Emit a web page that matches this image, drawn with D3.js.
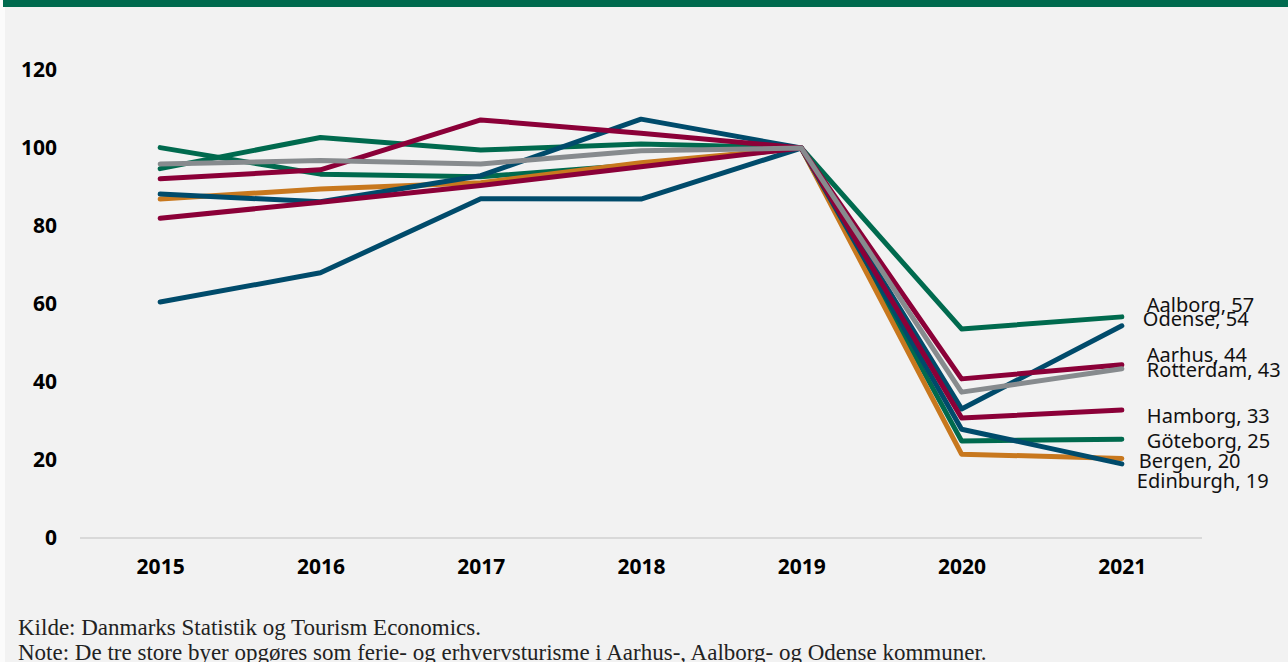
<!DOCTYPE html>
<html><head><meta charset="utf-8">
<script src="https://cdn.jsdelivr.net/npm/d3@7"></script>
<style>
html,body{margin:0;padding:0;background:#f2f2f2;}
svg{display:block;}
</style></head>
<body>
<script>
// ---- data ----
const years = ["2015","2016","2017","2018","2019","2020","2021"];
const yTicks = [0,20,40,60,80,100,120];
const cities = ["Göteborg","Aalborg","Bergen","Odense","Edinburgh","Hamborg","Aarhus","Rotterdam"];
const goteborg  = [100.1, 93.3, 92.6, 95.8, 100, 24.9, 25.3];
const aalborg   = [94.7, 102.7, 99.5, 101.0, 100, 53.6, 56.7];
const bergen    = [86.9, 89.5, 91.1, 96.2, 100, 21.5, 20.4];
const odense    = [60.5, 68.0, 87.0, 86.9, 100, 33.1, 54.4];
const edinburgh = [88.2, 86.2, 92.9, 107.4, 100, 27.9, 19.0];
const hamborg   = [82.0, 86.1, 90.4, 95.2, 100, 30.8, 32.8];
const aarhus    = [92.1, 94.4, 107.2, 103.8, 100, 40.8, 44.4];
const rotterdam = [95.9, 96.8, 95.9, 99.3, 100, 37.4, 43.4];
const seriesValues = [goteborg, aalborg, bergen, odense, edinburgh, hamborg, aarhus, rotterdam];
const sourceText = "Kilde: Danmarks Statistik og Tourism Economics.";
const noteText = "Note: De tre store byer opgøres som ferie- og erhvervsturisme i Aarhus-, Aalborg- og Odense kommuner.";

// ---- styles ----
const colors = {"Göteborg":"#006a4e","Aalborg":"#006a4e","Bergen":"#c8781e","Odense":"#004b6b",
  "Edinburgh":"#004b6b","Hamborg":"#8b0038","Aarhus":"#8b0038","Rotterdam":"#878b8e"};
// label nudges (px) relative to end point
const labelNudge = {"Aalborg":[25,-5],"Odense":[21,0],"Aarhus":[25,-3],"Rotterdam":[25,8],
  "Hamborg":[25,12.5],"Göteborg":[25,8.4],"Bergen":[17,9.3],"Edinburgh":[15,23.8]};

const W = 1288, H = 662;
const svg = d3.select("body").append("svg").attr("width", W).attr("height", H);
svg.append("rect").attr("width", W).attr("height", H).attr("fill", "#f2f2f2");
svg.append("rect").attr("x",0).attr("y",0).attr("width",5).attr("height",H).attr("fill","#fbfbfb");
svg.append("rect").attr("x",3).attr("y",0).attr("width",W-3).attr("height",7).attr("fill","#006a4e");

const x = d3.scalePoint().domain(years).range([80, 1202]).padding(0.5);
const y = d3.scaleLinear().domain([0, 120]).range([538, 70]);

// baseline
svg.append("line").attr("x1", 80).attr("x2", 1202).attr("y1", y(0)).attr("y2", y(0))
  .attr("stroke", "#d9d9d9").attr("stroke-width", 2);

// y axis labels
const yAxis = d3.axisLeft(y).tickValues(yTicks).tickSize(0).tickPadding(0);
const gy = svg.append("g").attr("transform", "translate(57,0)").call(yAxis);
gy.select(".domain").remove();
gy.selectAll("text").attr("font-family", "'Noto Sans', sans-serif").attr("font-weight", "bold")
  .attr("font-size", 21).attr("fill", "#000");

// x axis labels
const xAxis = d3.axisBottom(x).tickSize(0).tickPadding(0);
const gx = svg.append("g").attr("transform", "translate(0,559)").call(xAxis);
gx.select(".domain").remove();
gx.selectAll("text").attr("font-family", "'Noto Sans', sans-serif").attr("font-weight", "bold")
  .attr("font-size", 21).attr("fill", "#000");

// lines
const line = d3.line().x((d, i) => x(years[i])).y(d => y(d));
const series = cities.map((c, i) => ({name: c, values: seriesValues[i]}));
svg.append("g").selectAll("path").data(series).join("path")
  .attr("d", d => line(d.values)).attr("fill", "none")
  .attr("stroke", d => colors[d.name]).attr("stroke-width", 5)
  .attr("stroke-linecap", "round").attr("stroke-linejoin", "round");

// end labels
const fmt = d3.format(".0f");
svg.append("g").selectAll("text").data(series).join("text")
  .attr("x", d => x(years[years.length - 1]) + labelNudge[d.name][0])
  .attr("y", d => y(d.values[d.values.length - 1]) + labelNudge[d.name][1])
  .attr("font-family", "'Noto Sans', sans-serif").attr("font-size", 20).attr("fill", "#111")
  .text(d => d.name + ", " + fmt(d.values[d.values.length - 1]));

// footer
svg.append("text").attr("x", 18).attr("y", 635).attr("font-family", "'Liberation Serif', serif")
  .attr("font-size", 23).attr("fill", "#222").text(sourceText);
svg.append("text").attr("x", 18).attr("y", 660).attr("font-family", "'Liberation Serif', serif")
  .attr("font-size", 23).attr("fill", "#222").text(noteText);
</script>
</body></html>
